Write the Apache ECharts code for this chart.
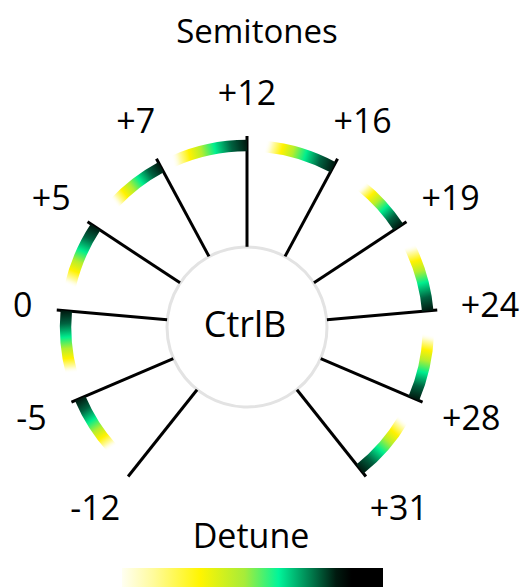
<!DOCTYPE html>
<html>
<head>
<meta charset="utf-8">
<script src="https://cdn.jsdelivr.net/npm/echarts@6/dist/echarts.min.js"></script>
<style>
html, body { margin: 0; padding: 0; background: #fff; }
#chart { width: 520px; height: 587px; }
</style>
</head>
<body>
<div id="chart"></div>
<script>
// spokes, clockwise starting bottom-left
var semitones = ['-12', '-5', '0', '+5', '+7', '+12', '+16', '+19', '+24', '+28', '+31'];
// detune arc length per spoke (in spoke steps)
var detune = [0, 0.66, 0.7, 0.72, 0.66, 0.86, 0.8, 0.62, 0.76, 0.74, 0.74];

var font = 'Open Sans';
var fs = 34;
var center = [247, 327];
var step = 28.3;            // degrees between two spokes
var hubR = 0.42;            // hub edge, in radius units
var arcIn = 0.92, arcOut = 0.98;
var labelR = 1.13;

// detune colour scale (low -> high)
var scaleStops = [
    [0, '#fffff2'], [0.12, '#fffb9c'], [0.3, '#fff500'], [0.47, '#a6ec3a'],
    [0.6, '#00f59a'], [0.72, '#00804f'], [0.82, '#001a0f'], [0.88, '#000000'], [1, '#000000']
];
// arc colours, from the spoke outwards
var arcStops = [
    [0, '#001a10'], [0.2, '#006240'], [0.42, '#00ee8e'], [0.6, '#b4ee2e'],
    [0.76, '#fff200'], [0.9, '#fffbb0'], [1, 'rgba(255,255,255,0)']
];

function toStops(list) {
    return list.map(function (s) { return { offset: s[0], color: s[1] }; });
}

var chart = echarts.init(document.getElementById('chart'), null, { renderer: 'svg' });

var opt = {
    animation: false,
    title: [
        {
            text: 'Semitones', left: 252, top: 9, textAlign: 'center',
            textStyle: { fontFamily: font, fontSize: 33, fontWeight: 'normal', color: '#000' }
        },
        {
            text: 'Detune', left: 246, top: 513, textAlign: 'center',
            textStyle: { fontFamily: font, fontSize: fs, fontWeight: 'normal', color: '#000' }
        }
    ],
    polar: { center: center, radius: 191 },
    angleAxis: {
        type: 'value',
        min: 0,
        max: 360 / step,
        interval: 1,
        startAngle: 90 + 5 * step,
        clockwise: true,
        show: false
    },
    radiusAxis: { type: 'value', min: 0, max: 1, show: false },
    graphic: [
        {
            type: 'circle',
            shape: { cx: center[0], cy: center[1], r: 80 },
            style: { fill: '#fff', stroke: '#e3e3e3', lineWidth: 3 },
            z: 1
        },
        {
            type: 'text',
            x: center[0] - 2, y: center[1] - 4,
            style: {
                text: 'CtrlB', fontFamily: font, fontSize: 36, fill: '#000',
                align: 'center', verticalAlign: 'middle'
            },
            z: 2
        },
        {
            type: 'rect',
            shape: { x: 122, y: 568, width: 261, height: 22 },
            style: { fill: new echarts.graphic.LinearGradient(0, 0, 1, 0, toStops(scaleStops)) }
        }
    ],
    series: [
        {
            // spokes
            type: 'custom',
            coordinateSystem: 'polar',
            encode: { radius: 0, angle: 1 },
            data: semitones.map(function (s, i) { return [1, i]; }),
            renderItem: function (params, api) {
                var i = api.value(1);
                var a = api.coord([hubR, i]);
                var b = api.coord([1, i]);
                return {
                    type: 'line',
                    shape: { x1: a[0], y1: a[1], x2: b[0], y2: b[1] },
                    style: { stroke: '#000', lineWidth: 3 }
                };
            }
        },
        {
            // detune arcs
            type: 'custom',
            coordinateSystem: 'polar',
            encode: { radius: 0, angle: 1 },
            data: semitones.map(function (s, i) { return [1, i, detune[i]]; }),
            renderItem: function (params, api) {
                var i = api.value(1);
                var d = api.value(2);
                if (!d) return null;
                var cx = params.coordSys.cx, cy = params.coordSys.cy;
                var mid = (arcIn + arcOut) / 2;
                var p0 = api.coord([mid, i]);
                var p1 = api.coord([mid, i - d]);
                var q0 = api.coord([arcIn, i]);
                var q1 = api.coord([arcOut, i]);
                var a0 = Math.atan2(p0[1] - cy, p0[0] - cx);
                var a1 = Math.atan2(p1[1] - cy, p1[0] - cx);
                if (a0 < a1) a0 += Math.PI * 2;
                return {
                    type: 'sector',
                    shape: {
                        cx: cx, cy: cy,
                        r0: Math.hypot(q0[0] - cx, q0[1] - cy),
                        r: Math.hypot(q1[0] - cx, q1[1] - cy),
                        startAngle: a1, endAngle: a0, clockwise: true
                    },
                    style: {
                        fill: new echarts.graphic.LinearGradient(p0[0], p0[1], p1[0], p1[1], toStops(arcStops), true)
                    }
                };
            }
        },
        {
            // semitone labels round the outside
            type: 'custom',
            coordinateSystem: 'polar',
            encode: { radius: 0, angle: 1 },
            data: semitones.map(function (s, i) { return [1, i]; }),
            renderItem: function (params, api) {
                var i = api.value(1);
                var cx = params.coordSys.cx, cy = params.coordSys.cy;
                var p = api.coord([labelR, i]);
                var len = Math.hypot(p[0] - cx, p[1] - cy);
                var ux = (p[0] - cx) / len, uy = (p[1] - cy) / len;
                var w = semitones[i].length * 0.55 * fs;
                return {
                    type: 'text',
                    x: p[0] + ux * w / 2,
                    y: p[1] + uy * fs / 2 - 2,
                    style: {
                        text: semitones[i], fontFamily: font, fontSize: fs, fill: '#000',
                        align: 'center', verticalAlign: 'middle'
                    }
                };
            }
        }
    ]
};
chart.setOption(opt);
</script>
</body>
</html>
